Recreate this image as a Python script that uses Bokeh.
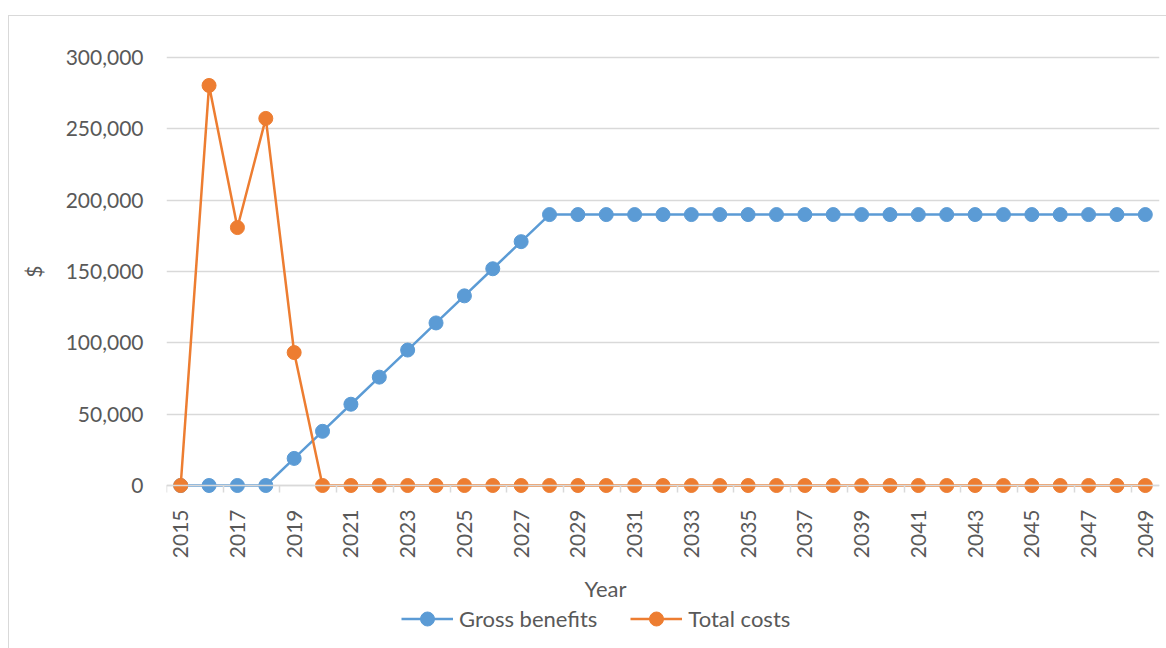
import math
from bokeh.plotting import figure
from bokeh.models import (ColumnDataSource, FixedTicker, NumeralTickFormatter, Legend,
                          LegendItem, Title, Label, Range1d, InlineStyleSheet)
from bokeh.embed import file_html
from bokeh.resources import INLINE

years = list(range(2015, 2050))
gross_benefits = [0, 0, 0, 0, 18990, 37980, 56970, 75960, 94950, 113940, 132930,
                  151920, 170910] + [189900] * 22
total_costs = [0, 280400, 180800, 257300, 93200] + [0] * 30
x_tick_labels = [y for y in years if y % 2 == 1]
y_ticks = [0, 50000, 100000, 150000, 200000, 250000, 300000]

BLUE = "#5B9BD5"
ORANGE = "#ED7D31"
GRID = "#D9D9D9"
TEXT = "#595959"
FONT = "Lato"

src = ColumnDataSource(dict(year=years, gb=gross_benefits, tc=total_costs))

border_css = InlineStyleSheet(css="""
:host::after {
  content: "";
  position: absolute;
  left: 8px; top: 15px; right: 0px; bottom: 0px;
  border-left: 1.5px solid #D9D9D9;
  border-top: 1.5px solid #D9D9D9;
  pointer-events: none;
}
""")

# frame: x 166..1159, y 50..648; y=0 at 485 px, y=300000 at 57 px
PX_PER_UNIT_Y = 428 / 300000
Y_END = y_ticks[-1] + 7 / PX_PER_UNIT_Y
Y_START = Y_END - 598 / PX_PER_UNIT_Y

p = figure(width=1166, height=648, output_backend="svg", toolbar_location=None,
           x_range=Range1d(years[0] - 0.5, years[-1] + 0.5),
           y_range=Range1d(Y_START, Y_END),
           min_border_left=166, min_border_right=7, min_border_top=50,
           min_border_bottom=0, stylesheets=[border_css])
p.outline_line_color = None
p.background_fill_color = "white"
p.border_fill_color = "white"

# Axes
p.xaxis.fixed_location = 0
p.xaxis.ticker = FixedTicker(ticks=x_tick_labels,
                             minor_ticks=[y - 0.5 for y in years if y % 2 == 1])
p.xaxis.major_label_orientation = math.pi / 2
p.xaxis.major_tick_out = 0
p.xaxis.major_tick_in = 0
p.xaxis.minor_tick_out = 7
p.xaxis.minor_tick_in = 0
p.xaxis.minor_tick_line_color = GRID
p.xaxis.minor_tick_line_width = 1.5
p.xaxis.axis_line_color = GRID
p.xaxis.axis_line_width = 1.5
p.xaxis.major_label_standoff = 17
p.xaxis.major_label_text_font = FONT
p.xaxis.major_label_text_font_size = "21px"
p.xaxis.major_label_text_color = TEXT

p.yaxis.ticker = FixedTicker(ticks=y_ticks)
p.yaxis.formatter = NumeralTickFormatter(format="0,0")
p.yaxis.axis_line_color = None
p.yaxis.major_tick_out = 0
p.yaxis.major_tick_in = 0
p.yaxis.minor_tick_line_color = None
p.yaxis.major_label_standoff = 23
p.yaxis.major_label_text_font = FONT
p.yaxis.major_label_text_font_size = "21px"
p.yaxis.major_label_text_color = TEXT

p.xgrid.grid_line_color = None
p.ygrid.grid_line_color = GRID
p.ygrid.grid_line_width = 1.5

# Series
l1 = p.line("year", "gb", source=src, line_color=BLUE, line_width=2.5)
s1 = p.scatter("year", "gb", source=src, size=14, fill_color=BLUE, line_color=BLUE)
l2 = p.line("year", "tc", source=src, line_color=ORANGE, line_width=2.5)
s2 = p.scatter("year", "tc", source=src, size=14, fill_color=ORANGE, line_color=ORANGE)

# Axis titles
p.add_layout(Label(x=439, y=60, x_units="screen", y_units="screen", text="Year",
                   text_align="center", text_baseline="middle", text_font=FONT,
                   text_font_size="22px", text_color=TEXT))
p.add_layout(Title(text="$", align="right", offset=215, standoff=34,
                   text_font=FONT, text_font_size="21px", text_color=TEXT,
                   text_font_style="normal"), "left")

legend = Legend(items=[LegendItem(label="Gross benefits", renderers=[l1, s1]),
                       LegendItem(label="Total costs", renderers=[l2, s2])],
                orientation="horizontal", location=(235, 12),
                glyph_width=52, glyph_height=35, label_standoff=6, spacing=33,
                padding=0, margin=0, border_line_color=None,
                background_fill_alpha=0,
                label_text_font=FONT, label_text_font_size="22px",
                label_text_color=TEXT)
p.add_layout(legend, "center")

open("out.html", "w").write(file_html(p, INLINE))
